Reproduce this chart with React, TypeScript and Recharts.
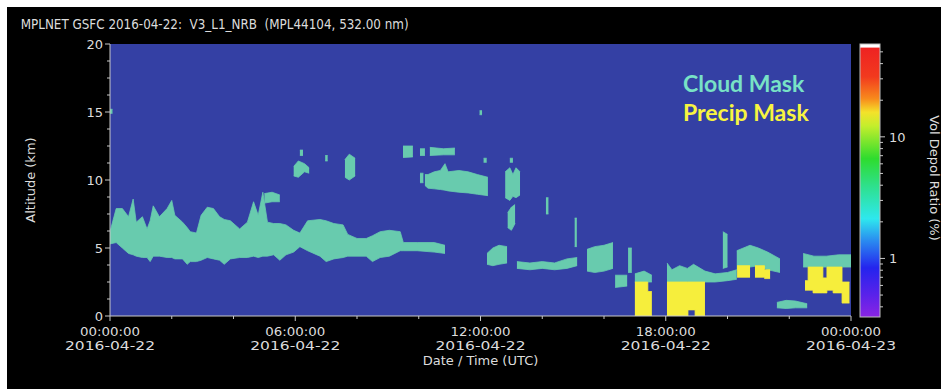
import { ComposedChart, Area, XAxis, YAxis, CartesianGrid } from "recharts";

type Seg = [number, number | null, number | null];

const PLOT_BG = "#3440a4";
const CLOUD = "#68cbae";
const PRECIP = "#f6ee3c";
const AXIS = "#c8c8c8";
const FRAME = "#9aa0c0";
const TXT = "#dcdcdc";
const FONT = "DejaVu Sans";

// axis ticks: minor every 2 h / 1.25 km, labelled every 6 h / 5 km
const hourTicks = [0, 2, 4, 6, 8, 10, 12, 14, 16, 18, 20, 22, 24];
const timeLabels = ["00:00:00", "06:00:00", "12:00:00", "18:00:00", "00:00:00"];
const dateLabels = ["2016-04-22", "2016-04-22", "2016-04-22", "2016-04-22", "2016-04-23"];
const altTicks = [0, 1.25, 2.5, 3.75, 5, 6.25, 7.5, 8.75, 10, 11.25, 12.5, 13.75, 15, 16.25, 17.5, 18.75, 20];
const altLabels = ["0", "5", "10", "15", "20"];

// colour bar (volume depol ratio, log scale)
const depolRange = [0.33, 58];
const depolMajor = [1, 10];
const depolMinor = [0.4, 0.5, 0.6, 0.7, 0.8, 0.9, 2, 3, 4, 5, 6, 7, 8, 9, 20, 30, 40, 50];
const rainbow: [number, string][] = [
  [0, "#ffffff"], [0.012, "#ffffff"], [0.014, "#ee2222"], [0.12, "#f23a1e"],
  [0.2, "#f88a1c"], [0.25, "#f4e22a"], [0.3, "#c4ee2c"], [0.42, "#2edc2e"],
  [0.52, "#2ee08c"], [0.64, "#2ee8ee"], [0.72, "#2a8cf0"], [0.82, "#2424ee"],
  [0.92, "#5a22ea"], [1, "#8a24e4"],
];

// cloud mask features: [hour UTC, base km, top km]  (null = gap)
const lowLayer: Seg[] = [
  [0.0, 5.3, 6.2], [0.2, 5.4, 7.9], [0.4, 5.0, 7.9], [0.6, 4.6, 7.3], [0.75, 4.5, 8.6],
  [0.85, 4.4, 6.9], [1.05, 4.3, 7.3], [1.2, 4.3, 6.4], [1.3, 4.0, 7.0], [1.4, 4.4, 8.1],
  [1.6, 4.4, 7.3], [1.85, 4.3, 7.9], [2.0, 4.3, 8.5], [2.1, 4.2, 7.4], [2.35, 4.2, 6.9],
  [2.5, 3.8, 6.5], [2.6, 4.0, 6.2], [2.8, 4.0, 6.1], [2.95, 4.1, 7.4], [3.15, 4.3, 8.0],
  [3.35, 4.2, 7.9], [3.55, 4.1, 7.3], [3.7, 3.8, 7.1], [3.9, 4.2, 7.0], [4.2, 4.3, 6.4],
  [4.45, 4.3, 6.9], [4.65, 4.4, 8.4], [4.8, 4.3, 7.4], [4.95, 4.4, 9.1], [5.1, 4.4, 6.9],
  [5.3, 4.5, 6.8], [5.5, 4.1, 6.8], [5.7, 4.5, 6.7], [5.95, 4.7, 6.3], [6.15, 5.1, 6.1],
  [6.4, 4.8, 7.0], [6.8, 4.4, 7.1], [7.0, 4.0, 7.0], [7.25, 4.2, 6.8], [7.55, 4.3, 6.7],
  [7.7, 4.4, 6.0], [8.0, 4.4, 5.7], [8.3, 4.4, 5.7], [8.5, 4.0, 5.9], [8.75, 4.3, 6.2],
  [9.05, 4.4, 6.3], [9.4, 4.8, 6.2], [9.5, 4.8, 5.4], [9.95, 4.8, 5.4], [10.5, 4.7, 5.4],
  [10.85, 4.6, 5.2],
];
const midCloud: Seg[] = [
  [10.2, 9.6, 10.4], [10.3, 9.4, 10.4], [10.5, 9.35, 10.6], [10.7, 9.3, 10.7],
  [10.85, 9.25, 11.2], [10.95, 9.2, 10.6], [11.3, 9.1, 10.7], [11.6, 9.05, 10.6],
  [11.9, 8.95, 10.4], [12.24, 8.85, 10.2],
];
const highStrip: Seg[] = [
  [9.49, 11.65, 12.5], [9.81, 11.7, 12.5], [9.82, null, null],
  [10.04, 11.8, 12.3], [10.2, 11.8, 12.3], [10.21, null, null],
  [10.36, 11.8, 12.4], [10.8, 11.85, 12.3], [11.17, 11.85, 12.35],
];
const patch0600: Seg[] = [[5.95, 10.3, 11.0], [6.1, 10.2, 11.4], [6.3, 10.6, 11.2], [6.45, 10.5, 10.9]];
const patch0745: Seg[] = [[7.61, 10.2, 11.5], [7.75, 10.0, 11.9], [7.94, 10.3, 11.6]];
const specks: Seg[] = [
  [0.0, 14.9, 15.2], [0.08, 14.9, 15.2], [0.09, null, null],
  [5.0, 8.3, 9.0], [5.25, 8.4, 9.1], [5.5, 8.4, 8.9], [5.51, null, null],
  [6.15, 11.8, 12.2], [6.25, 11.8, 12.2], [6.26, null, null],
  [6.97, 11.4, 11.8], [7.05, 11.4, 11.8], [7.06, null, null],
  [10.04, 9.8, 10.5], [10.15, 9.8, 10.5], [10.16, null, null],
  [11.97, 14.8, 15.1], [12.05, 14.8, 15.1], [12.06, null, null],
  [12.1, 11.3, 11.6], [12.2, 11.3, 11.6], [12.21, null, null],
  [12.95, 11.3, 11.6], [13.05, 11.3, 11.6],
];
const streak1300: Seg[] = [[12.8, 8.7, 10.6], [12.95, 8.5, 10.9], [13.05, 8.8, 10.4], [13.15, 8.7, 10.9], [13.28, 8.9, 10.6]];
const frag1300: Seg[] = [[12.88, 6.5, 7.6], [13.0, 6.3, 8.0], [13.12, 6.8, 8.2]];
const low1230: Seg[] = [[12.21, 3.8, 4.6], [12.4, 3.7, 5.0], [12.6, 3.8, 5.2], [12.86, 3.9, 5.1]];
const strip1400: Seg[] = [[13.18, 3.5, 4.0], [13.6, 3.4, 3.9], [14.0, 3.5, 4.0], [14.4, 3.4, 3.9], [14.8, 3.5, 4.2], [15.13, 3.7, 4.3]];
const patch1545: Seg[] = [[15.45, 3.3, 4.9], [15.7, 3.2, 5.1], [16.0, 3.3, 5.2], [16.29, 3.5, 5.4]];
const streaks: Seg[] = [
  [14.12, 7.5, 8.7], [14.2, 7.5, 8.7], [14.21, null, null],
  [15.05, 5.1, 7.2], [15.12, 5.1, 7.2], [15.13, null, null],
  [16.36, 2.1, 3.0], [16.75, 2.2, 3.0], [16.76, null, null],
  [16.78, 3.2, 5.0], [16.9, 3.2, 5.0], [16.91, null, null],
  [19.85, 3.5, 6.2], [20.0, 3.6, 6.0],
];
const overPrecipA: Seg[] = [[17.0, 2.5, 3.1], [17.3, 2.5, 3.3], [17.55, 2.5, 3.0]];
const overPrecipB: Seg[] = [
  [18.04, 2.5, 3.9], [18.2, 2.5, 3.4], [18.45, 2.5, 3.7], [18.7, 2.5, 3.5], [18.9, 2.5, 3.8],
  [19.27, 2.5, 3.3], [19.6, 2.5, 3.1], [20.0, 2.6, 3.2], [20.3, 2.7, 3.4],
];
const slope2100: Seg[] = [[20.3, 3.4, 4.8], [20.73, 3.6, 5.2], [21.0, 3.7, 5.0], [21.3, 3.4, 4.7], [21.7, 3.2, 4.2]];
const low2200: Seg[] = [[21.6, 0.6, 1.0], [21.9, 0.55, 1.15], [22.2, 0.6, 1.1], [22.58, 0.6, 0.9]];
const late: Seg[] = [[22.45, 3.6, 4.6], [22.8, 3.6, 4.4], [23.2, 3.6, 4.4], [23.6, 3.6, 4.5], [24, 3.6, 4.5]];

// precipitation mask blocks
const precipA: Seg[] = [[17.0, 0, 2.5], [17.42, 0, 1.8], [17.55, 0, 1.8]];
const precipB: Seg[] = [[18.04, 0, 2.5], [18.72, 0.45, 2.5], [18.95, 0, 2.5], [19.27, 0, 2.5]];
const precipC: Seg[] = [[20.31, 2.85, 3.7], [20.73, 2.85, 3.7]];
const precipD: Seg[] = [[20.89, 2.85, 3.7], [21.2, 2.75, 3.4], [21.38, 2.75, 3.4]];
const precipE: Seg[] = [
  [22.51, 1.9, 2.6], [22.61, 1.9, 3.6], [22.77, 1.7, 3.6], [23.09, 1.7, 2.8], [23.22, 1.9, 3.6],
  [23.42, 1.7, 3.6], [23.71, 0.95, 2.5], [23.95, 0.95, 2.5],
];

const clouds = [
  lowLayer, midCloud, highStrip, patch0600, patch0745, specks, streak1300, frag1300, low1230,
  strip1400, patch1545, streaks, overPrecipA, overPrecipB, slope2100, low2200, late,
];
const precips = [precipA, precipB, precipC, precipD, precipE];

const toRows = (seg: Seg[]) => seg.map(([t, lo, hi]) => ({ t, r: lo === null ? null : [lo, hi] }));

function HourTick({ x, y, payload }: any) {
  const v = payload.value as number;
  const major = v % 6 === 0;
  const i = v / 6;
  return (
    <g>
      <line x1={x} x2={x} y1={y} y2={y + (major ? 5 : 3)} stroke={AXIS} />
      {major && (
        <text x={x} y={y + 20} textAnchor="middle" fill={TXT} fontSize={12} fontFamily={FONT}
          textLength={60} lengthAdjust="spacingAndGlyphs">
          {timeLabels[i]}
        </text>
      )}
      {major && (
        <text x={x} y={y + 34} textAnchor="middle" fill={TXT} fontSize={12} fontFamily={FONT}
          textLength={90} lengthAdjust="spacingAndGlyphs">
          {dateLabels[i]}
        </text>
      )}
    </g>
  );
}

function AltTick({ x, y, payload }: any) {
  const v = payload.value as number;
  const major = v % 5 === 0;
  return (
    <g>
      <line x1={x - (major ? 5 : 3)} x2={x} y1={y} y2={y} stroke={AXIS} />
      {major && (
        <text x={x - 7} y={y} dy="0.36em" textAnchor="end" fill={TXT} fontSize={13} fontFamily={FONT}>
          {altLabels[v / 5]}
        </text>
      )}
    </g>
  );
}

// colour bar geometry (container coordinates)
const CB = { x: 853, y: 37, w: 20, h: 273 };
const cbY = (v: number) => {
  const [a, b] = depolRange;
  return CB.y + (CB.h * (Math.log10(b) - Math.log10(v))) / (Math.log10(b) - Math.log10(a));
};

function Overlay() {
  return (
    <svg width={934} height={382} style={{ position: "absolute", left: 0, top: 0, pointerEvents: "none" }}>
      <defs>
        <linearGradient id="rainbow" x1="0" y1="0" x2="0" y2="1">
          {rainbow.map(([o, c]) => (
            <stop key={o} offset={o} stopColor={c} />
          ))}
        </linearGradient>
      </defs>
      <text x={13.7} y={21.5} fill={TXT} fontSize={14.5} fontFamily={FONT} style={{ whiteSpace: "pre" }}
        textLength={388} lengthAdjust="spacingAndGlyphs">
        {"MPLNET GSFC 2016-04-22:  V3_L1_NRB  (MPL44104, 532.00 nm)"}
      </text>
      <text transform="translate(23,173) rotate(-90)" textAnchor="middle" dominantBaseline="central"
        fill={TXT} fontSize={13} fontFamily={FONT}>
        Altitude (km)
      </text>
      <text x={473.5} y={358} textAnchor="middle" fill={TXT} fontSize={13} fontFamily={FONT}>
        Date / Time (UTC)
      </text>
      <rect x={CB.x} y={CB.y} width={CB.w} height={CB.h} fill="url(#rainbow)" stroke="#bcbcbc" strokeWidth={1} />
      {depolMinor.map((v) => (
        <line key={v} x1={CB.x + CB.w} x2={CB.x + CB.w + 3} y1={cbY(v)} y2={cbY(v)} stroke={AXIS} />
      ))}
      {depolMajor.map((v) => (
        <g key={v}>
          <line x1={CB.x + CB.w} x2={CB.x + CB.w + 5} y1={cbY(v)} y2={cbY(v)} stroke={AXIS} />
          <text x={CB.x + CB.w + 9} y={cbY(v)} dy="0.36em" fill={TXT} fontSize={13} fontFamily={FONT}>
            {v}
          </text>
        </g>
      ))}
      <text transform="translate(927,171) rotate(90)" textAnchor="middle" dominantBaseline="central"
        fill={TXT} fontSize={13} fontFamily={FONT}>
        Vol Depol Ratio (%)
      </text>
      <text x={676} y={85} fill="#78e2c6" fontSize={23} fontWeight="bold" fontFamily="Lato">
        Cloud Mask
      </text>
      <text x={676} y={114} fill="#f8f440" fontSize={23} fontWeight="bold" fontFamily="Lato">
        Precip Mask
      </text>
    </svg>
  );
}

export default function App() {
  return (
    <div style={{ position: "fixed", left: 7, top: 7, width: 934, height: 382, background: "#000" }}>
      <ComposedChart width={934} height={382} margin={{ top: 37, right: 90, bottom: 13, left: 53 }}>
        <CartesianGrid fill={PLOT_BG} horizontal={false} vertical={false} />
        <XAxis dataKey="t" type="number" domain={[0, 24]} ticks={hourTicks} interval={0} allowDataOverflow
          height={60} tickSize={0} tickMargin={0} tickLine={false} axisLine={{ stroke: AXIS }}
          tick={(p: any) => <HourTick {...p} />} />
        <XAxis xAxisId="frame" orientation="top" type="number" domain={[0, 24]} height={0}
          tick={false} tickLine={false} axisLine={{ stroke: FRAME }} />
        <YAxis type="number" domain={[0, 20]} ticks={altTicks} interval={0} allowDataOverflow width={50}
          tickSize={0} tickMargin={0} tickLine={false} axisLine={{ stroke: AXIS }}
          tick={(p: any) => <AltTick {...p} />} />
        <YAxis yAxisId="frame" orientation="right" type="number" domain={[0, 20]} width={0}
          tick={false} tickLine={false} axisLine={{ stroke: FRAME }} />
        {clouds.map((seg, i) => (
          <Area key={"c" + i} data={toRows(seg)} dataKey="r" type="linear" fill={CLOUD} stroke={CLOUD}
            strokeWidth={0.8} fillOpacity={1} dot={false} activeDot={false} isAnimationActive={false} />
        ))}
        {precips.map((seg, i) => (
          <Area key={"p" + i} data={toRows(seg)} dataKey="r" type="stepAfter" fill={PRECIP} stroke={PRECIP}
            strokeWidth={0.8} fillOpacity={1} dot={false} activeDot={false} isAnimationActive={false} />
        ))}
      </ComposedChart>
      <Overlay />
    </div>
  );
}
